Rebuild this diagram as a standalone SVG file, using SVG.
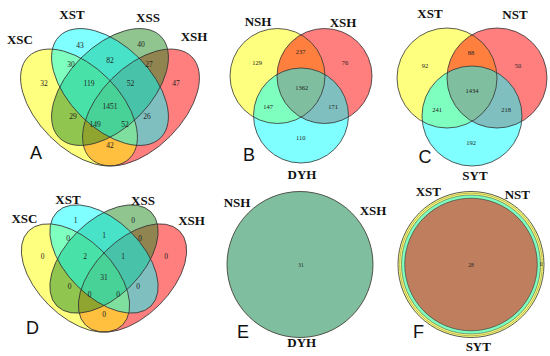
<svg xmlns="http://www.w3.org/2000/svg" width="550" height="356" viewBox="0 0 550 356">
<style>
.f{fill-opacity:.5;stroke:none}
.o{fill:none;stroke:#333;stroke-width:.8}
.y{fill:#ffff00}.c{fill:#00ffff}.g{fill:#228b22}.r{fill:#ff0000}
.lab{font-family:"Liberation Serif","Times New Roman",serif;font-weight:bold;font-size:13px;text-anchor:middle;fill:#111}
.n{font-family:"Liberation Serif","Times New Roman",serif;font-size:7.5px;text-anchor:middle;fill:#222}
.ns{font-size:6.5px}
.nt{font-size:5.5px}
.pl{font-family:"Liberation Sans",Arial,sans-serif;font-size:18px;text-anchor:middle;fill:#111}
</style>
<defs>
<ellipse id="eA1" cx="79" cy="107.5" rx="71.75" ry="41" transform="rotate(45 79 107.5)"/>
<ellipse id="eA2" cx="110" cy="87" rx="71.75" ry="41" transform="rotate(45 110 87)"/>
<ellipse id="eA3" cx="110" cy="87" rx="71.75" ry="41" transform="rotate(-45 110 87)"/>
<ellipse id="eA4" cx="141" cy="107.5" rx="71.75" ry="41" transform="rotate(-45 141 107.5)"/>
<ellipse id="eD1" cx="75.5" cy="278" rx="66.5" ry="38" transform="rotate(45 75.5 278)"/>
<ellipse id="eD2" cx="104" cy="259" rx="66.5" ry="38" transform="rotate(45 104 259)"/>
<ellipse id="eD3" cx="104" cy="259" rx="66.5" ry="38" transform="rotate(-45 104 259)"/>
<ellipse id="eD4" cx="132.5" cy="278" rx="66.5" ry="38" transform="rotate(-45 132.5 278)"/>
<circle id="cB1" cx="277.5" cy="76" r="47.5"/>
<circle id="cB2" cx="324.5" cy="76" r="47.5"/>
<circle id="cB3" cx="301" cy="115.5" r="47.5"/>
<circle id="cC1" cx="447" cy="78" r="50"/>
<circle id="cC2" cx="497" cy="78" r="50"/>
<circle id="cC3" cx="472" cy="116" r="50"/>
<circle id="cE" cx="300" cy="264.5" r="73"/>
<circle id="cF1" cx="471" cy="264.5" r="73"/>
<circle id="cF2" cx="471" cy="264.5" r="69.5"/>
<circle id="cF3" cx="471" cy="264.5" r="66.3"/>
</defs>

<g id="connectors"/>

<!-- Panel A -->
<g id="panelA">
  <g id="A-XSH"><use href="#eA4" class="f r"/></g>
  <g id="A-XSC"><use href="#eA1" class="f y"/></g>
  <g id="A-XSS"><use href="#eA3" class="f g"/></g>
  <g id="A-XST"><use href="#eA2" class="f c"/></g>
  <g id="A-outlines"><use href="#eA1" class="o"/><use href="#eA2" class="o"/><use href="#eA3" class="o"/><use href="#eA4" class="o"/></g>
  <g id="A-labels">
    <text class="lab" x="20" y="44">XSC</text>
    <text class="lab" x="72" y="18.5">XST</text>
    <text class="lab" x="148" y="22">XSS</text>
    <text class="lab" x="194" y="40.5">XSH</text>
  </g>
  <g id="A-counts">
    <text class="n" x="80" y="47.6">43</text>
    <text class="n" x="71" y="67">30</text>
    <text class="n" x="110" y="63.3">82</text>
    <text class="n" x="141" y="47">40</text>
    <text class="n" x="149" y="67">27</text>
    <text class="n" x="44" y="86">32</text>
    <text class="n" x="89" y="86">119</text>
    <text class="n" x="130.5" y="86">52</text>
    <text class="n" x="176" y="86">47</text>
    <text class="n" x="110" y="109.3">1451</text>
    <text class="n" x="73" y="119.3">29</text>
    <text class="n" x="147" y="119.3">26</text>
    <text class="n" x="95" y="127">149</text>
    <text class="n" x="125" y="127">52</text>
    <text class="n" x="110" y="148.3">42</text>
  </g>
  <text class="pl" x="36" y="159">A</text>
</g>

<!-- Panel B -->
<g id="panelB">
  <g id="B-NSH"><use href="#cB1" class="f y"/></g>
  <g id="B-XSH"><use href="#cB2" class="f r"/></g>
  <g id="B-DYH"><use href="#cB3" class="f c"/></g>
  <g id="B-outlines"><use href="#cB1" class="o"/><use href="#cB2" class="o"/><use href="#cB3" class="o"/></g>
  <text class="lab" x="258" y="25.5">NSH</text>
  <text class="lab" x="343" y="26.5">XSH</text>
  <text class="lab" x="302" y="179">DYH</text>
  <text class="n ns" x="300.7" y="54.3">237</text>
  <text class="n ns" x="257" y="65.3">129</text>
  <text class="n ns" x="345" y="65.3">76</text>
  <text class="n ns" x="301.7" y="90.3">1362</text>
  <text class="n ns" x="268" y="109.3">147</text>
  <text class="n ns" x="333" y="109.3">171</text>
  <text class="n ns" x="300.7" y="140.3">110</text>
  <text class="pl" x="249" y="160.5">B</text>
</g>

<!-- Panel C -->
<g id="panelC">
  <g id="C-XST"><use href="#cC1" class="f y"/></g>
  <g id="C-NST"><use href="#cC2" class="f r"/></g>
  <g id="C-SYT"><use href="#cC3" class="f c"/></g>
  <g id="C-outlines"><use href="#cC1" class="o"/><use href="#cC2" class="o"/><use href="#cC3" class="o"/></g>
  <text class="lab" x="430" y="17.5">XST</text>
  <text class="lab" x="515" y="18.5">NST</text>
  <text class="lab" x="475" y="179.5">SYT</text>
  <text class="n ns" x="471" y="55.3">88</text>
  <text class="n ns" x="425" y="68.3">92</text>
  <text class="n ns" x="518" y="68.3">50</text>
  <text class="n ns" x="472" y="93.3">1434</text>
  <text class="n ns" x="437" y="112.3">241</text>
  <text class="n ns" x="506" y="112.3">218</text>
  <text class="n ns" x="471" y="145.3">192</text>
  <text class="pl" x="425" y="163">C</text>
</g>

<!-- Panel D -->
<g id="panelD">
  <g id="D-XSH"><use href="#eD4" class="f r"/></g>
  <g id="D-XSC"><use href="#eD1" class="f y"/></g>
  <g id="D-XSS"><use href="#eD3" class="f g"/></g>
  <g id="D-XST"><use href="#eD2" class="f c"/></g>
  <g id="D-outlines"><use href="#eD1" class="o"/><use href="#eD2" class="o"/><use href="#eD3" class="o"/><use href="#eD4" class="o"/></g>
  <g id="D-labels">
    <text class="lab" x="24.5" y="222.5">XSC</text>
    <text class="lab" x="68" y="203.8">XST</text>
    <text class="lab" x="143" y="204.5">XSS</text>
    <text class="lab" x="191.5" y="224.5">XSH</text>
  </g>
  <g id="D-counts">
    <text class="n" x="75.5" y="222.8">1</text>
    <text class="n" x="133" y="222.5">0</text>
    <text class="n" x="68" y="241">0</text>
    <text class="n" x="104" y="238.3">1</text>
    <text class="n" x="140" y="241">0</text>
    <text class="n" x="42.5" y="259">0</text>
    <text class="n" x="85" y="259">2</text>
    <text class="n" x="123" y="259">1</text>
    <text class="n" x="166" y="259">0</text>
    <text class="n" x="104" y="280.3">31</text>
    <text class="n" x="69.5" y="289.3">0</text>
    <text class="n" x="138" y="289.3">0</text>
    <text class="n" x="89.5" y="297">0</text>
    <text class="n" x="118" y="297">0</text>
    <text class="n" x="104" y="316.5">0</text>
  </g>
  <text class="pl" x="32.5" y="334">D</text>
</g>

<!-- Panel E -->
<g id="panelE">
  <g id="E-NSH"><use href="#cE" class="f y"/></g>
  <g id="E-XSH"><use href="#cE" class="f r"/></g>
  <g id="E-DYH"><use href="#cE" class="f c"/></g>
  <use href="#cE" class="o"/>
  <text class="lab" x="237" y="207.2">NSH</text>
  <text class="lab" x="373" y="214.8">XSH</text>
  <text class="lab" x="301.7" y="347.2">DYH</text>
  <text class="n nt" x="301" y="267">31</text>
  <text class="pl" x="243" y="338">E</text>
</g>

<!-- Panel F -->
<g id="panelF">
  <g id="F-XST"><use href="#cF1" class="f y"/></g>
  <g id="F-SYT"><use href="#cF2" class="f c"/></g>
  <g id="F-NST"><use href="#cF3" class="f r"/></g>
  <use href="#cF1" class="o"/>
  <circle cx="471" cy="264.5" r="71.3" fill="none" stroke="#8a8a3a" stroke-width=".6"/>
  <use href="#cF2" class="o" style="stroke-width:.5"/>
  <use href="#cF3" class="o" style="stroke-width:.6"/>
  <text class="lab" x="428.3" y="196.2">XST</text>
  <text class="lab" x="517.3" y="198.8">NST</text>
  <text class="lab" x="478.3" y="351.2">SYT</text>
  <text class="n nt" x="471" y="267">28</text>
  <text class="n nt" x="541" y="266">0</text>
  <text class="pl" x="418.5" y="338">F</text>
</g>
</svg>
